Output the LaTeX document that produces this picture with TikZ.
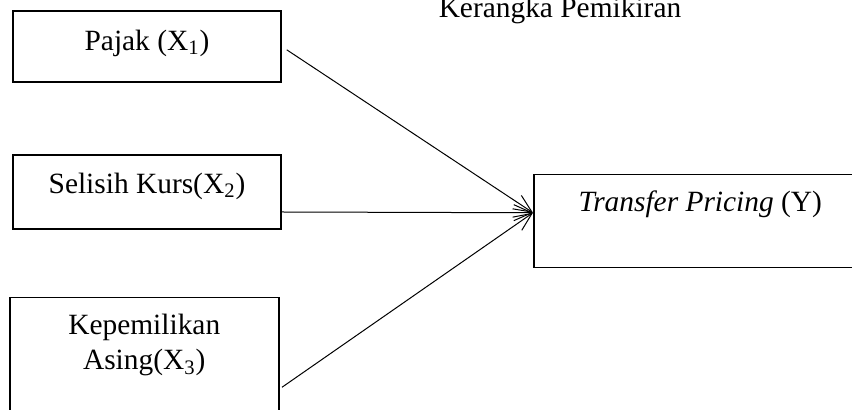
\documentclass[tikz,border=0pt]{standalone}
\usepackage{fontspec}
\setmainfont{Liberation Serif}
\usetikzlibrary{arrows.meta,positioning}
\begin{document}
\begin{tikzpicture}[x=0.5pt,y=-0.5pt,font=\fontsize{14.7}{17.5}\selectfont,
  varbox/.style={draw,line width=0.75pt,inner sep=0pt},
  lbl/.style={inner sep=0pt,align=center,anchor=base},
  link/.style={line width=0.5pt,-{Straight Barb[length=9pt,width=8pt]}}]
  % Coordinates are pixels of the 852x410 frame, y grows downwards.
  \useasboundingbox (0,0) rectangle (852,410);
  \clip (0,0) rectangle (852,410);
  \node[lbl] (judul) at (560,18) {Kerangka Pemikiran};
  \node[varbox,minimum width=134pt,minimum height=35.5pt] (pajak) at (147,46.5) {};
  \node[varbox,minimum width=134pt,minimum height=37pt] (kurs) at (147,192) {};
  \node[varbox,minimum width=134.5pt,minimum height=70pt,anchor=north west] (asing) at (9,297) {};
  \node[varbox,minimum width=166.5pt,minimum height=46.5pt,anchor=north west] (tp) at (533,174) {};
  \node[lbl] (pajak-t) at ([yshift=-20pt]pajak.north) {Pajak (X\textsubscript{1})};
  \node[lbl] (kurs-t) at ([yshift=-19.5pt]kurs.north) {Selisih Kurs(X\textsubscript{2})};
  \node[lbl,anchor=north] (asing-t) at ([yshift=-8.5pt]asing.north) {Kepemilikan\\Asing(X\textsubscript{3})};
  \node[lbl] (tp-t) at ([yshift=-19pt]tp.north) {\textit{Transfer Pricing} (Y)};
  \coordinate (tip) at ([yshift=4.25pt]tp.west);
  \draw[link,shorten <=3pt] (pajak.east) -- (tip);
  \draw[link] ([yshift=-10pt]kurs.east) -- (tip);
  \draw[link,shorten <=1.5pt] ([yshift=-46pt]asing.north east) -- (tip);
\end{tikzpicture}
\end{document}
